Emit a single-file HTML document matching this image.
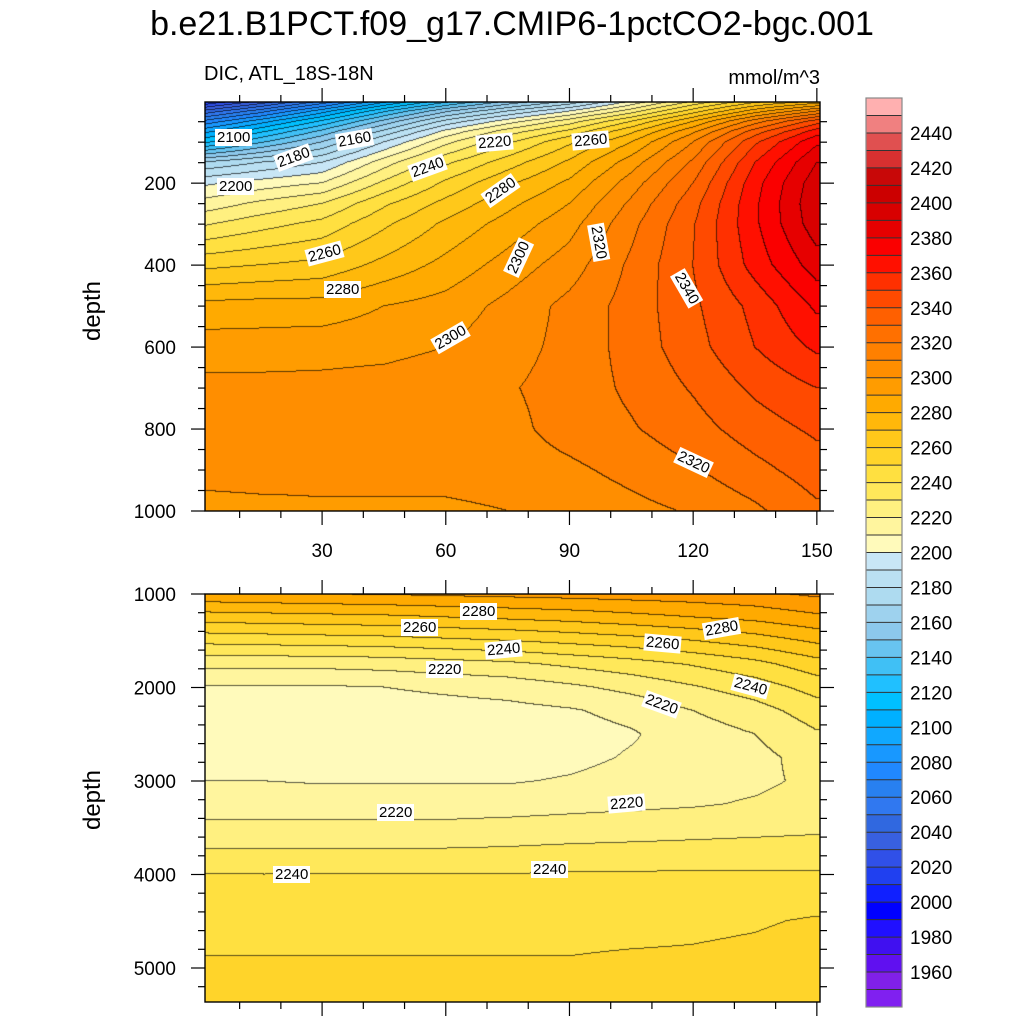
<!DOCTYPE html>
<html><head><meta charset="utf-8">
<style>
body{margin:0;background:#fff;width:1024px;height:1024px;position:relative;overflow:hidden;font-family:"Liberation Sans",sans-serif;}
.t{position:absolute;white-space:nowrap;color:#000;}
.cl{position:absolute;background:#fff;font-size:15px;padding:0 2px;line-height:17px;transform-origin:center;}
canvas{position:absolute;}
</style></head><body>
<div class="t" style="left:0;width:1024px;text-align:center;top:5px;font-size:34px;">b.e21.B1PCT.f09_g17.CMIP6-1pctCO2-bgc.001</div>
<div class="t" style="left:204px;top:63px;font-size:20px;">DIC, ATL_18S-18N</div>
<div class="t" style="right:204px;top:67px;font-size:20px;">mmol/m^3</div>
<div class="t" style="left:93px;top:311px;font-size:24px;transform:translate(-50%,-50%) rotate(-90deg);">depth</div>
<div class="t" style="left:93px;top:800px;font-size:24px;transform:translate(-50%,-50%) rotate(-90deg);">depth</div>
<canvas id="cTop" width="615" height="409" style="left:205px;top:102px"></canvas>
<canvas id="cBot" width="615" height="408" style="left:205px;top:594px"></canvas>
<svg id="ax" width="1024" height="1024" style="position:absolute;left:0;top:0"></svg>
<div id="labels"></div>
<script>
// ---- data ----
const xs = [0,15,30,45,60,75,90,105,120,135,150];
const topDepths = [0,25,50,75,100,150,200,250,300,400,500,600,700,800,900,1000];
// columns per x, values per depth
const topCols = [
[2005,2040,2070,2095,2115,2170,2197,2213,2228,2257,2283,2295,2303,2304,2303,2297],
[2030,2065,2095,2118,2138,2180,2204,2222,2236,2260,2284,2295,2303,2304,2303,2298],
[2060,2095,2122,2143,2160,2190,2210,2230,2243,2263,2284,2296,2303,2304,2302,2299],
[2095,2128,2153,2173,2190,2215,2232,2248,2258,2273,2290,2297,2304,2304,2302,2299],
[2125,2158,2183,2203,2217,2238,2252,2263,2272,2283,2294,2300,2306,2305,2304,2298],
[2150,2180,2205,2225,2238,2255,2268,2277,2284,2294,2303,2306,2309,2307,2305,2300],
[2170,2200,2225,2243,2258,2272,2282,2290,2296,2305,2313,2313,2314,2314,2308,2303],
[2200,2225,2250,2268,2280,2295,2305,2312,2317,2322,2324,2324,2322,2319,2313,2307],
[2230,2255,2280,2298,2310,2322,2330,2336,2339,2340,2338,2336,2331,2326,2319,2311],
[2255,2285,2315,2335,2348,2360,2366,2368,2368,2364,2353,2350,2342,2335,2327,2318],
[2270,2310,2345,2365,2378,2390,2396,2398,2396,2385,2372,2362,2350,2342,2335,2328]
];
const botDepths = [1000,1250,1500,1750,2000,2250,2500,2750,3000,3250,3500,4000,4500,5000,5400];
// rows per depth, values per x
const botRows = [
[2288,2289,2290,2291,2292,2293,2294,2295,2296,2298,2302],
[2265,2266,2267,2268,2270,2272,2274,2277,2280,2283,2288],
[2243,2244,2245,2246,2248,2250,2253,2256,2260,2265,2272],
[2223,2223,2223,2224,2226,2228,2232,2236,2241,2247,2256],
[2209,2209,2209,2210,2212,2214,2218,2223,2229,2235,2244],
[2205,2205,2205,2205,2206,2207,2209,2213,2220,2226,2235],
[2204,2204,2204,2204,2204,2205,2206,2209,2215,2220,2229],
[2205,2205,2205,2205,2205,2205,2207,2211,2214,2217,2224],
[2210,2210,2209,2209,2209,2209,2211,2214,2216,2218,2222],
[2216,2216,2216,2216,2216,2216,2217,2218,2219,2221,2224],
[2222,2222,2222,2222,2222,2223,2224,2225,2226,2227,2228],
[2240,2240,2240,2240,2240,2240,2241,2241,2241,2241,2241],
[2247,2247,2247,2247,2247,2247,2247,2247,2248,2249,2251],
[2251,2251,2251,2251,2251,2251,2251,2252,2252,2253,2255],
[2255,2255,2255,2255,2255,2255,2255,2255,2256,2257,2259]
];
// colormap bottom (1940) to top (2460), step 10
const cmap = ["#8020f0","#8020e8","#6010f0","#4010f0","#2010ff","#0000ff","#1020ff","#2040f0","#3050e8","#3860e0","#3068e0","#3078f0","#2880f0","#2088ff","#1898ff","#10a8ff","#00b0ff","#00c0ff","#20c0ff","#40c0f5","#68c4f0","#8cc8ec","#9ed2ee","#aedbf0","#bae0f2","#c8e6f6",
"#fffabb","#fff59e","#fff080","#ffe85a","#ffe040","#ffd42a","#ffc81a","#ffb80a","#ffaa00","#ff9c00","#ff8e00","#ff8000","#ff7000","#ff6000","#ff4a00","#ff3000","#ff1000","#fa0000","#e60000","#d80000","#cc0000","#c80808","#d83030","#e05050","#f08080","#ffb0b0"];
const cbTicks = [1960,1980,2000,2020,2040,2060,2080,2100,2120,2140,2160,2180,2200,2220,2240,2260,2280,2300,2320,2340,2360,2380,2400,2420,2440];
const xTicks = [30,60,90,120,150];
const topYTicks = [200,400,600,800,1000];
const botYTicks = [1000,2000,3000,4000,5000];

// ---- scales ----
const X = v => 198.4 + v*4.123;
const Ytop = d => 101.2 + d*0.4098;
const Ybot = d => 594 + (d-1000)*0.0935;
const LMIN=1940, LSTEP=10;

function interp1(arr,v){let i=0;while(i<arr.length-2&&v>arr[i+1])i++;let t=(v-arr[i])/(arr[i+1]-arr[i]);t=Math.max(0,Math.min(1,t));return [i,t];}
function hex(c){return [parseInt(c.substr(1,2),16),parseInt(c.substr(3,2),16),parseInt(c.substr(5,2),16)];}
const rgb = cmap.map(hex);
function render(id, W, H, x0, invY, depths, get){
  const cv=document.getElementById(id),ctx=cv.getContext('2d');
  const img=ctx.createImageData(W,H);
  const lev=new Int16Array(W*H);
  for(let py=0;py<H;py++){
    const d=invY(py+0.5);const [di,dt]=interp1(depths,d);
    for(let px=0;px<W;px++){
      const xv=(x0+px+0.5-198.4)/4.123;const [xi,xt]=interp1(xs,xv);
      const v=(get(xi,di)*(1-xt)+get(xi+1,di)*xt)*(1-dt)+(get(xi,di+1)*(1-xt)+get(xi+1,di+1)*xt)*dt;
      let k=Math.floor((v-LMIN)/LSTEP);k=Math.max(0,Math.min(cmap.length-1,k));
      lev[py*W+px]=k;
    }
  }
  for(let py=0;py<H;py++)for(let px=0;px<W;px++){
    const k=lev[py*W+px];let c=rgb[k];
    const edge=(px<W-1&&lev[py*W+px+1]!==k)||(py<H-1&&lev[(py+1)*W+px]!==k);
    const o=(py*W+px)*4;
    if(edge){img.data[o]=c[0]*0.35;img.data[o+1]=c[1]*0.35;img.data[o+2]=c[2]*0.35;}
    else{img.data[o]=c[0];img.data[o+1]=c[1];img.data[o+2]=c[2];}
    img.data[o+3]=255;
  }
  ctx.putImageData(img,0,0);
}
render('cTop',615,409,205,py=>(102+py-101.2)/0.4098,topDepths,(xi,di)=>topCols[xi][di]);
render('cBot',615,408,205,py=>1000+(py)/0.0935,botDepths,(xi,di)=>botRows[di][xi]);

// ---- axes ----
const svg=document.getElementById('ax');const NS='http://www.w3.org/2000/svg';
function el(tag,attrs){const e=document.createElementNS(NS,tag);for(const k in attrs)e.setAttribute(k,attrs[k]);svg.appendChild(e);return e;}
function line(x1,y1,x2,y2,w){const l=el('line',{x1,y1,x2,y2,stroke:'#000','stroke-width':w||1.2});

return l;}
function txt(x,y,s,anchor,size){const t=el('text',{x,y,'font-size':size||19,'text-anchor':anchor||'middle','font-family':'Liberation Sans, sans-serif'});t.textContent=s;

return t;}
function frame(y0,y1){const r=el('rect',{x:205,y:y0,width:615,height:y1-y0,fill:'none',stroke:'#000','stroke-width':1.4});

}
frame(102,511);frame(594,1002);
for(let v=10;v<=150;v+=10){const x=X(v);const maj=v%30===0;const L=maj?14:7;
  line(x,102,x,102-L);line(x,511,x,511+L);line(x,594,x,594-L);line(x,1002,x,1002+L);}
xTicks.forEach(v=>txt(X(v),557,String(v)));
for(let d=50;d<=1000;d+=50){const y=Ytop(d);const maj=d%200===0;const L=maj?14:7;line(205,y,205-L,y);line(820,y,820+L,y);}
topYTicks.forEach(d=>txt(176,Ytop(d)+7,String(d),'end'));
for(let d=1000;d<=5364;d+=200){const y=Ybot(d);const maj=d%1000===0;const L=maj?14:7;line(205,y,205-L,y);line(820,y,820+L,y);}
botYTicks.forEach(d=>txt(176,Ybot(d)+7,String(d),'end'));
// colorbar
const cbTop=98,cbBot=1007,cbH=(cbBot-cbTop)/cmap.length;
cmap.forEach((c,i)=>{const y=cbBot-(i+1)*cbH;const r=el('rect',{x:866,y:y,width:36,height:cbH+0.3,fill:c});


if(i>0){const l=line(866,y+cbH,902,y+cbH,1);l.setAttribute('stroke','#333');}});
const cbr=el('rect',{x:866,y:cbTop,width:36,height:cbBot-cbTop,fill:'none',stroke:'#888','stroke-width':1.2});


cbTicks.forEach(v=>{const y=cbBot-(v-LMIN)/LSTEP*cbH;txt(910,y+7,String(v),'start');});

// contour labels
const labs=[
[2100,236,138,0],[2180,296,158,-20],[2160,357,140,-10],[2200,238,187,0],[2240,430,168,-20],[2220,497,143,-5],[2260,593,141,-5],[2280,503,191,-35],[2260,327,254,-15],[2280,345,290,0],[2300,521,258,-65],[2320,601,243,80],[2340,689,289,60],[2300,453,338,-30],[2320,696,463,25],
[2280,481,612,0],[2260,422,628,0],[2240,506,650,-5],[2220,447,670,0],[2260,665,644,5],[2280,724,629,-10],[2240,753,687,15],[2220,664,705,20],[2220,398,813,0],[2220,629,804,-5],[2240,294,875,0],[2240,552,870,0]];
const box=document.getElementById('labels');
labs.forEach(l=>{const d=document.createElement('div');d.className='cl';d.textContent=l[0];


d.style.left=(l[1]-21)+'px';d.style.top=(l[2]-9)+'px';d.style.transform='rotate('+l[3]+'deg)';box.appendChild(d);});
</script>
</body></html>
